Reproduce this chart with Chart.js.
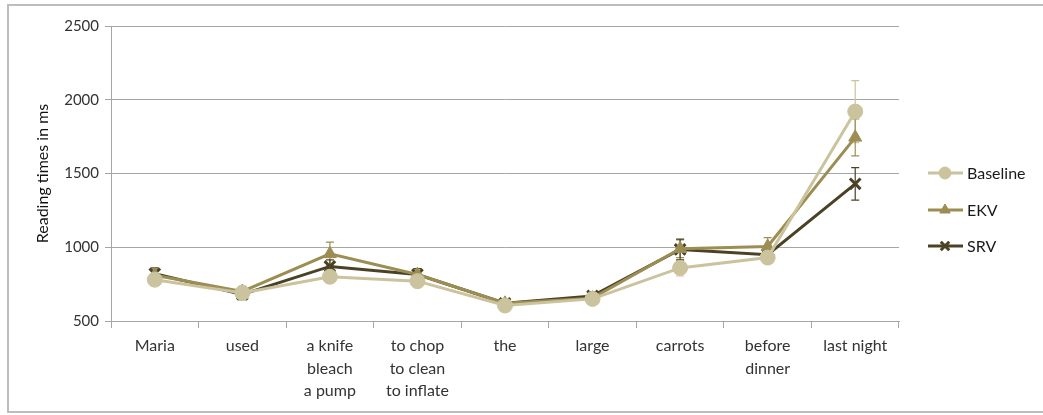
<!DOCTYPE html>
<html>
<head>
<meta charset="utf-8">
<script src="https://cdn.jsdelivr.net/npm/chart.js@4"></script>
<style>
  body { margin: 0; background: #fff; }
  #wrap { width: 1043px; height: 415px; position: relative; }
</style>
</head>
<body>
<div id="wrap"><canvas id="myChart"></canvas></div>
<script>
// words of the sentence (x axis)
var words = ['Maria', 'used', ['a knife', 'bleach', 'a pump'], ['to chop', 'to clean', 'to inflate'],
  'the', 'large', 'carrots', ['before', 'dinner'], 'last night'];

// mean reading times (ms)
var baseline = [780, 690, 800, 770, 605, 650, 860, 930, 1920];
var ekv = [810, 700, 955, 815, 620, 655, 990, 1005, 1745];
var srv = [820, 680, 870, 815, 620, 670, 985, 950, 1430];

// error bar half-lengths (ms)
var baselineErr = [35, 30, 40, 35, 20, 25, 55, 40, 210];
var ekvErr = [40, 35, 80, 40, 25, 25, 60, 60, 125];
var srvErr = [40, 35, 45, 40, 25, 30, 70, 45, 110];

var yTicks = [500, 1000, 1500, 2000, 2500];

var colBase = '#cbc39e';
var colEkv = '#9c8e53';
var colSrv = '#4b4226';

// frame around the whole figure
var framePlugin = {
  id: 'frame',
  beforeDraw: function(chart) {
    var c = chart.ctx;
    c.save();
    c.strokeStyle = '#bdbdbd';
    c.lineWidth = 2;
    c.strokeRect(8, 5, 1040, 407);
    c.restore();
  }
};

// error bars drawn from the scales
var errPlugin = {
  id: 'errbars',
  beforeDatasetsDraw: function(chart) {
    var c = chart.ctx;
    var y = chart.scales.y;
    chart.data.datasets.forEach(function(ds, i) {
      var meta = chart.getDatasetMeta(i);
      c.save();
      c.strokeStyle = ds.borderColor;
      c.lineWidth = 1.2;
      meta.data.forEach(function(pt, j) {
        var v = ds.data[j], e = ds.err[j];
        var top = y.getPixelForValue(v + e), bot = y.getPixelForValue(v - e);
        c.beginPath();
        c.moveTo(pt.x, top); c.lineTo(pt.x, bot);
        c.moveTo(pt.x - 4, top); c.lineTo(pt.x + 4, top);
        c.moveTo(pt.x - 4, bot); c.lineTo(pt.x + 4, bot);
        c.stroke();
      });
      c.restore();
    });
  }
};

// legend on the right
var legendPlugin = {
  id: 'sideLegend',
  afterDraw: function(chart) {
    var c = chart.ctx;
    var ys = [173, 210, 246];
    chart.data.datasets.forEach(function(ds, i) {
      var yy = ys[i];
      c.save();
      c.strokeStyle = ds.borderColor;
      c.fillStyle = ds.borderColor;
      c.lineWidth = 3;
      c.beginPath();
      c.moveTo(928, yy); c.lineTo(963, yy);
      c.stroke();
      c.lineWidth = ds.pointBorderWidth;
      Chart.helpers.drawPoint(c, {
        pointStyle: ds.pointStyle, radius: 6, borderWidth: ds.pointBorderWidth
      }, 945, yy);
      c.fillStyle = '#1a1a1a';
      c.font = '16px Lato';
      c.textBaseline = 'middle';
      c.fillText(ds.label, 967, yy + 1);
      c.restore();
    });
  }
};

function makeSet(label, data, err, color, style, radius) {
  return {
    label: label,
    data: data,
    err: err,
    borderColor: color,
    backgroundColor: color,
    pointBackgroundColor: color,
    pointBorderColor: color,
    borderWidth: 3,
    pointStyle: style,
    pointRadius: radius,
    pointBorderWidth: style === 'crossRot' ? 3 : 1,
    tension: 0
  };
}

var ctx = document.getElementById('myChart').getContext('2d');
var mixedChart = new Chart(ctx, {
  type: 'line',
  data: {
    labels: words,
    datasets: [
      makeSet('Baseline', baseline, baselineErr, colBase, 'circle', 7.5),
      makeSet('EKV', ekv, ekvErr, colEkv, 'triangle', 7.5),
      makeSet('SRV', srv, srvErr, colSrv, 'crossRot', 7.5)
    ]
  },
  options: {
    responsive: true,
    maintainAspectRatio: false,
    animation: false,
    layout: { padding: { left: 33, top: 26, right: 144, bottom: 0 } },
    plugins: {
      legend: { display: false },
      tooltip: { enabled: false }
    },
    scales: {
      x: {
        offset: true,
        grid: { drawOnChartArea: false, offset: true, color: '#a6a6a6', tickLength: 7 },
        border: { color: '#a6a6a6', width: 1 },
        ticks: { color: '#333', font: { family: 'Lato', size: 16, lineHeight: 1.4 }, padding: 7, maxRotation: 0, autoSkip: false },
        afterFit: function(s) { s.height = 94; }
      },
      y: {
        min: 500,
        max: 2500,
        afterBuildTicks: function(s) { s.ticks = yTicks.map(function(v) { return { value: v }; }); },
        grid: { color: '#a6a6a6', tickLength: 6 },
        border: { color: '#a6a6a6', width: 1 },
        ticks: { color: '#333', font: { family: 'Lato', size: 15 }, padding: 6,
          callback: function(v) { return String(v); } },
        title: { display: true, text: 'Reading times in ms', color: '#111', font: { family: 'Lato', size: 16 }, padding: { top: 0, bottom: 2 } },
        afterFit: function(s) { s.width = 78; }
      }
    }
  },
  plugins: [framePlugin, errPlugin, legendPlugin]
});
</script>
</body>
</html>
